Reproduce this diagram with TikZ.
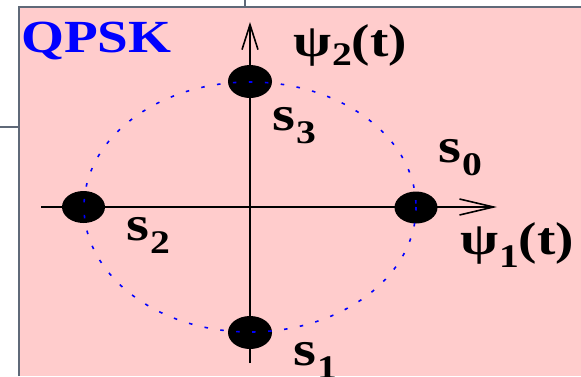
\documentclass[tikz,border=0pt]{standalone}
\usepackage{fontspec}
\newfontfamily\labfont[FakeStretch=1.2]{Liberation Serif}
\usetikzlibrary{arrows.meta}
\definecolor{bgpink}{RGB}{255,204,204}
\definecolor{framegray}{RGB}{95,105,120}
\definecolor{dotblue}{RGB}{0,0,255}
\newcommand\mysub[2]{\kern1pt\raisebox{-#1}{\fontsize{33}{33}\selectfont #2}}
\tikzset{
  lab/.style={inner sep=0pt, anchor=base west, font=\labfont\bfseries\fontsize{49}{49}\selectfont},
  psilab/.style={lab, font=\labfont\bfseries\fontsize{46}{46}\selectfont},
  axisline/.style={line width=1.6pt, black},
  symbdot/.style={fill=black, draw=none},
  framestub/.style={line width=1.6pt, framegray},
  circ/.style={dotblue, line width=1.6pt, dash pattern=on 3.5pt off 12.5pt},
}
\begin{document}
\begin{tikzpicture}[x=1pt,y=-1pt]
\useasboundingbox (0,0) rectangle (581,376);
% background panel
\fill[bgpink] (19,7) rectangle (581,376);
\draw[framestub] (19,376) -- (19,7) -- (581,7);
\coordinate (stubL) at (0,127);
\coordinate (stubLe) at (19,127);
\coordinate (stubT) at (245,0);
\coordinate (stubTe) at (245,7);
\draw[framestub] (stubL) -- (stubLe);
\draw[framestub] (stubT) -- (stubTe);
% axes
\coordinate (o) at (250,207);
\coordinate (xl) at (41,207);
\coordinate (xr) at (497,207);
\coordinate (yb) at (250,363);
\coordinate (yt) at (250,22);
\draw[axisline, -{Straight Barb[length=34pt,width=16pt,line width=1.6pt]}] (xl) -- (xr);
\draw[axisline, -{Straight Barb[length=25pt,width=16pt,line width=1.6pt]}] (yb) -- (yt);
% symbols
\fill[symbdot] (416,207.5) ellipse [x radius=21.5, y radius=16];
\fill[symbdot] (250,332.5) ellipse [x radius=22, y radius=16.5];
\fill[symbdot] (83.5,207) ellipse [x radius=21.5, y radius=16];
\fill[symbdot] (250,81.5) ellipse [x radius=22, y radius=16.5];
% dotted circle
\draw[circ] (o) ellipse [x radius=166, y radius=125];
% labels
\node[lab, text=dotblue, font=\labfont\bfseries\fontsize{46}{46}\selectfont] (title) at (21,52) {QPSK};
\node[psilab] (psi2) at (293,56) {ψ\mysub{9pt}{2}(t)};
\node[psilab] (psi1) at (460,254) {ψ\mysub{13pt}{1}(t)};
\node[lab] (s3) at (272,130) {s\mysub{13pt}{3}};
\node[lab] (s0) at (438,162) {s\mysub{13pt}{0}};
\node[lab] (s2) at (126,240) {s\mysub{13pt}{2}};
\node[lab] (s1) at (293,365) {s\mysub{13pt}{1}};
\end{tikzpicture}
\end{document}
